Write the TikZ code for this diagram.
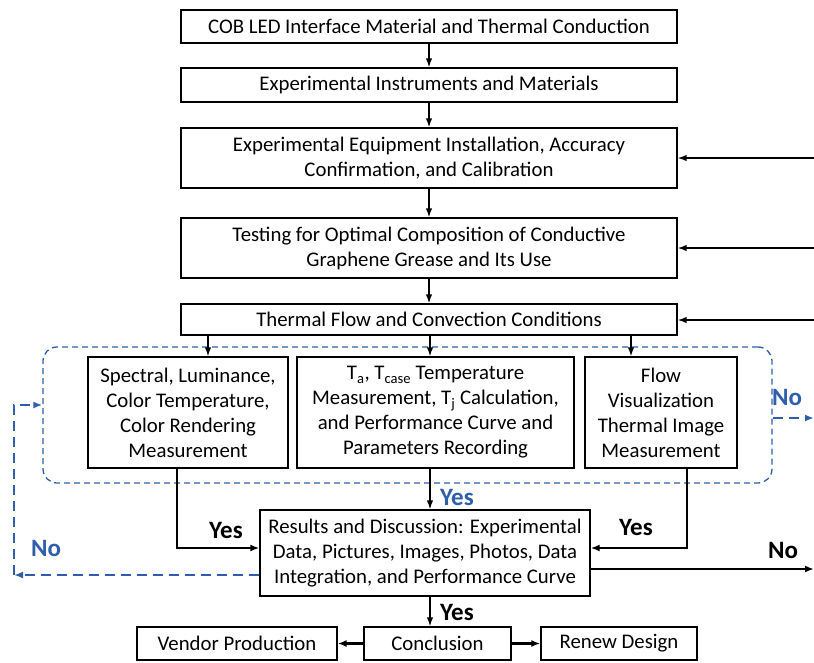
\documentclass[tikz,border=0pt]{standalone}
\usepackage{fontspec}
\setmainfont{Carlito}
\usetikzlibrary{arrows.meta,calc}
\definecolor{myblue}{RGB}{47,95,170}
\tikzset{
  box/.style={draw, line width=1.3pt, align=center, inner sep=0pt, font=\fontsize{20.8}{25}\selectfont},
  arr/.style={line width=1.5pt, -{Latex[length=9pt,width=6.5pt]}},
  thick arr/.style={line width=2.2pt, -{Latex[length=9pt,width=7pt]}},
  bdash/.style={myblue, line width=2pt, dash pattern=on 10pt off 6pt},
  lbl/.style={font=\fontsize{25}{28}\selectfont\bfseries, inner sep=0pt},
}
\begin{document}
\begin{tikzpicture}[x=1pt,y=-1pt]
\useasboundingbox (0,0) rectangle (814,662);
% main column
\node[box, minimum width=496pt, minimum height=33pt] (b1) at (429,26.5) {COB LED Interface Material and Thermal Conduction};
\node[box, minimum width=496pt, minimum height=34pt] (b2) at (429,85) {Experimental Instruments and Materials};
\node[box, minimum width=496pt, minimum height=60pt] (b3) at (429,158) {Experimental Equipment Installation, Accuracy\\Confirmation, and Calibration};
\node[box, minimum width=496pt, minimum height=60pt] (b4) at (429,248) {Testing for Optimal Composition of Conductive\\Graphene Grease and Its Use};
\node[box, minimum width=496pt, minimum height=31pt] (b5) at (429,319.5) {Thermal Flow and Convection Conditions};
% dashed group
\node[draw=myblue, line width=1.3pt, dash pattern=on 6pt off 4pt, rounded corners=14pt, minimum width=729pt, minimum height=136pt, inner sep=0pt] (grp) at (407.5,415) {};
\node[box, minimum width=200pt, minimum height=111pt] (A) at (188,412.5) {Spectral, Luminance,\\Color Temperature,\\Color Rendering\\Measurement};
\node[box, minimum width=277pt, minimum height=111pt] (B) at (435.5,412.5) {T\textsubscript{a}, T\textsubscript{case} Temperature\\Measurement, T\textsubscript{j} Calculation,\\and Performance Curve and\\Parameters Recording};
\node[box, minimum width=152pt, minimum height=111pt] (C) at (661,412.5) {Flow\\Visualization\\Thermal Image\\Measurement};
% results
\node[box, minimum width=330pt, minimum height=86pt] (R) at (425,553) {Results and Discussion: Experimental\\Data, Pictures, Images, Photos, Data\\Integration, and Performance Curve};
% bottom row
\node[box, minimum width=147pt, minimum height=33pt] (con) at (437.5,643.5) {Conclusion};
\node[box, minimum width=200pt, minimum height=33pt] (ven) at (237,643.5) {Vendor Production};
\node[box, minimum width=156pt, minimum height=33pt] (ren) at (619,643.5) {Renew Design};
% coordinates
\coordinate (in3) at (814,158);
\coordinate (in4) at (814,248);
\coordinate (in5) at (814,320);
\coordinate (noR) at (814,569);
\coordinate (noG) at (814,418);
\coordinate (lc) at (14,575);
% main arrows
\draw[arr] (b1) -- (b2);
\draw[arr] (b2) -- (b3);
\draw[arr] (b3) -- (b4);
\draw[arr] (b4) -- (b5);
\draw[arr] (in3) -- (b3.east |- in3);
\draw[arr] (in4) -- (b4.east |- in4);
\draw[arr] (in5) -- (b5.east |- in5);
\draw[arr] (b5.south -| 208,0) -- (A.north -| 208,0);
\draw[arr] (b5.south -| 430,0) -- (B.north -| 430,0);
\draw[arr] (b5.south -| 631,0) -- (C.north -| 631,0);
% to results
\draw[arr] (B.south -| 430,0) -- (R.north -| 430,0);
\node[lbl, text=myblue] at (457,497) {Yes};
\draw[thick arr] (A.south -| 177,0) |- ($(R.west)+(0,-5)$);
\draw[thick arr] (C.south -| 687,0) |- ($(R.east)+(0,-5)$);
\node[lbl] at (226,530) {Yes};
\node[lbl] at (636,527) {Yes};
\draw[thick arr] (R.east |- noR) -- (noR);
\node[lbl] at (783,550) {No};
% blue dashed feedback
\draw[bdash, -{Latex[length=9pt,width=7pt]}] (R.west |- lc) -- (lc);
\draw[bdash, -{Latex[length=9pt,width=7pt]}] (lc) -- (14,405) -- (grp.west |- 0,405);
\node[lbl, text=myblue] at (46,548) {No};
\draw[bdash, -{Latex[length=9pt,width=7pt]}] (grp.east |- noG) -- (noG);
\node[lbl, text=myblue] at (787,397) {No};
% bottom
\draw[arr] (R.south -| 430,0) -- (con.north -| 430,0);
\node[lbl] at (457,612) {Yes};
\draw[thick arr] (con) -- (ven);
\draw[thick arr] (con) -- (ren);
\end{tikzpicture}
\end{document}
